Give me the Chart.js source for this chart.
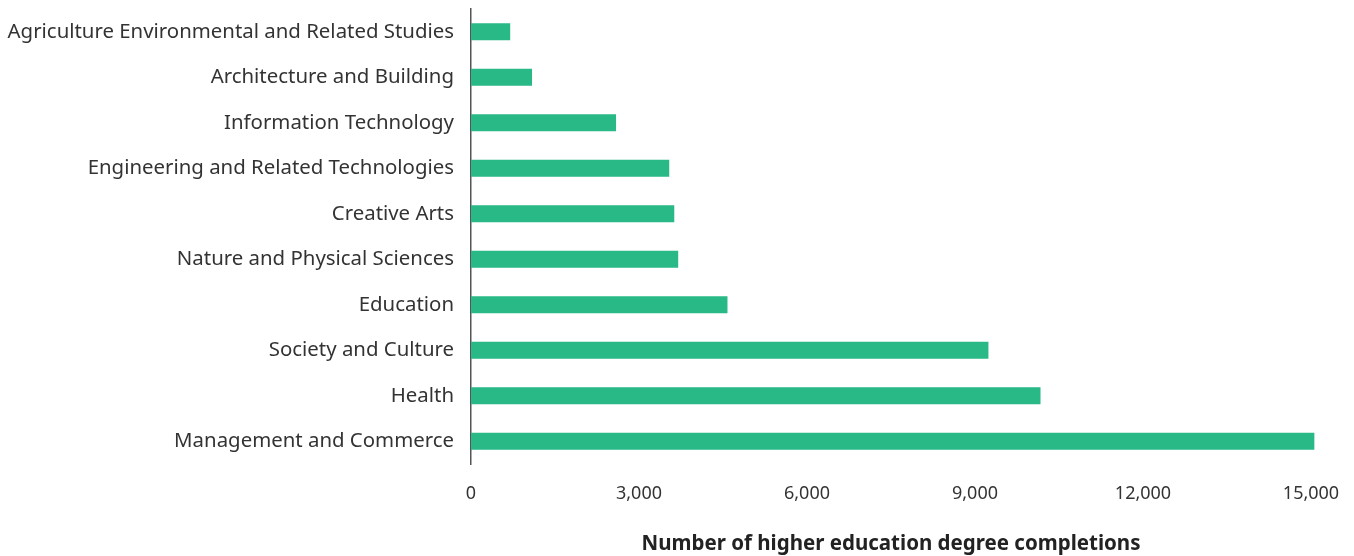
<!DOCTYPE html>
<html>
<head>
<meta charset="utf-8">
<script src="https://cdn.jsdelivr.net/npm/chart.js@4"></script>
<style>
  html, body { margin: 0; padding: 0; background: #fff; }
  #wrap { width: 1354px; height: 556px; position: relative; }
</style>
</head>
<body>
<div id="wrap"><canvas id="bar-chartcanvas"></canvas></div>
<script>
var fields = [
  "Agriculture Environmental and Related Studies",
  "Architecture and Building",
  "Information Technology",
  "Engineering and Related Technologies",
  "Creative Arts",
  "Nature and Physical Sciences",
  "Education",
  "Society and Culture",
  "Health",
  "Management and Commerce"
];
var completions = [700, 1090, 2590, 3540, 3630, 3700, 4580, 9240, 10170, 15060];
var xTicks = [0, 3000, 6000, 9000, 12000, 15000];

var ctx = document.getElementById("bar-chartcanvas");

var data1 = {
  labels : fields,
  datasets : [
    {
      label : "Completions",
      data : completions,
      backgroundColor : "#29b987",
      borderWidth : 0,
      barPercentage : 0.75,
      categoryPercentage : 0.5,
      clip : false
    }
  ]
};

var options = {
  indexAxis : "y",
  responsive : true,
  maintainAspectRatio : false,
  animation : false,
  layout : { padding : { top : 9, right : 43, bottom : 0, left : 0 } },
  plugins : {
    legend : { display : false },
    tooltip : { enabled : false }
  },
  scales : {
    y : {
      grid : { display : false, drawTicks : false },
      border : { display : true, color : "#555", width : 1.5 },
      ticks : {
        color : "#333",
        padding : 17,
        font : { family : "Noto Sans", size : 20.4 }
      },
      afterFit : function(s) {
        s.width = 471;
        s.paddingTop = 0;
        s.paddingBottom = 0;
      }
    },
    x : {
      min : 0,
      max : 15000,
      grid : { display : false, drawTicks : false },
      border : { display : false },
      afterBuildTicks : function(s) {
        s.ticks = xTicks.map(function(v) { return { value : v }; });
      },
      ticks : {
        color : "#333",
        padding : 19,
        font : { family : "Noto Sans", size : 18 },
        callback : function(v) { return v.toLocaleString("en-US"); }
      },
      title : {
        display : true,
        text : "Number of higher education degree completions",
        color : "#222",
        padding : { top : 20, bottom : 0 },
        font : { family : "Noto Sans", size : 20.5, weight : "bold" }
      },
      afterFit : function(s) {
        s.height = 92;
        s.paddingLeft = 0;
        s.paddingRight = 0;
      }
    }
  }
};

var chart = new Chart(ctx, {
  type : "bar",
  data : data1,
  options : options
});
</script>
</body>
</html>
